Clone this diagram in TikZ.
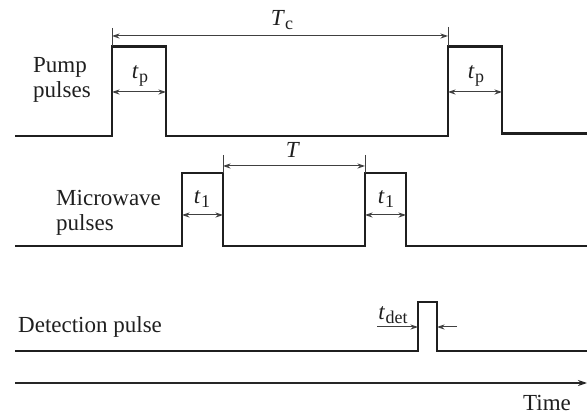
\documentclass[tikz,border=0pt]{standalone}
\usepackage{fontspec}
\setmainfont{Liberation Serif}
\usetikzlibrary{arrows.meta}
\newcommand\mysym[2]{\textit{#1}\kern0.3pt\raisebox{-4.5pt}{\fontsize{18}{18}\selectfont #2}}
\begin{document}
\begin{tikzpicture}[x=1pt,y=-1pt,
  pulse/.style={line width=2.8pt, draw=black!88, line join=miter},
  dim/.style={line width=1pt, draw=black!75, {Stealth[length=7.5pt,width=5pt]}-{Stealth[length=7.5pt,width=5pt]}},
  dimr/.style={line width=1pt, draw=black!75, -{Stealth[length=7.5pt,width=5pt]}},
  tickline/.style={line width=0.8pt, draw=black!75},
  lbl/.style={font=\fontsize{23}{25.5}\selectfont, inner sep=0pt, text=black!88},
  axis/.style={line width=1.3pt, draw=black!85, -{Stealth[length=9pt,width=6pt]}}]
\useasboundingbox (0,0) rectangle (587,414);

% ---------- Pump pulses ----------
\coordinate (p0) at (15,136);
\coordinate (p1) at (112,136);
\coordinate (p2) at (112,46.5);
\coordinate (p3) at (166,46.5);
\coordinate (p4) at (166,136);
\coordinate (p5) at (448,136);
\coordinate (p6) at (448,46.5);
\coordinate (p7) at (502,46.5);
\coordinate (p8) at (502,133.5);
\coordinate (p9) at (587,133.5);
\draw[pulse] (p0) -- (p1) -- (p2) -- (p3) -- (p4) -- (p5) -- (p6) -- (p7) -- (p8) -- (p9);

\node[lbl, align=left, anchor=west] (pumplbl) at (33,80) {Pump\\pulses};

\coordinate (tcA) at (112,28);
\coordinate (tcB) at (448,27);
\draw[tickline] (tcA) -- (p2);
\draw[tickline] (tcB) -- (p6);
\coordinate (tcL) at (112,36);
\coordinate (tcR) at (448,36);
\draw[dim] (tcL) -- (tcR);
\node[lbl] (tc) at (282,20) {\mysym{T}{c}};

\coordinate (tpL1) at (112,92);
\coordinate (tpR1) at (166,92);
\draw[dim] (tpL1) -- (tpR1);
\node[lbl] (tp1) at (140,76) {\mysym{t}{p}};
\coordinate (tpL2) at (448,92);
\coordinate (tpR2) at (502,92);
\draw[dim] (tpL2) -- (tpR2);
\node[lbl] (tp2) at (476,76) {\mysym{t}{p}};

% ---------- Microwave pulses ----------
\coordinate (m0) at (15,246);
\coordinate (m1) at (182,246);
\coordinate (m2) at (182,173);
\coordinate (m3) at (223,173);
\coordinate (m4) at (223,246);
\coordinate (m5) at (365,246);
\coordinate (m6) at (365,173);
\coordinate (m7) at (406,173);
\coordinate (m8) at (406,246);
\coordinate (m9) at (587,246);
\draw[pulse] (m0) -- (m1) -- (m2) -- (m3) -- (m4) -- (m5) -- (m6) -- (m7) -- (m8) -- (m9);

\node[lbl, align=left, anchor=west] (mwlbl) at (56,213) {Microwave\\pulses};

\coordinate (tA) at (223,155);
\coordinate (tB) at (365,155);
\draw[tickline] (tA) -- (m3);
\draw[tickline] (tB) -- (m6);
\coordinate (tL) at (223,166);
\coordinate (tR) at (365,166);
\draw[dim] (tL) -- (tR);
\node[lbl] (T) at (293,150) {\textit{T}};

\coordinate (t1L1) at (182,215);
\coordinate (t1R1) at (223,215);
\draw[dim] (t1L1) -- (t1R1);
\node[lbl] (t11) at (202,199) {\mysym{t}{1}};
\coordinate (t1L2) at (365,215);
\coordinate (t1R2) at (406,215);
\draw[dim] (t1L2) -- (t1R2);
\node[lbl] (t12) at (386,199) {\mysym{t}{1}};

% ---------- Detection pulse ----------
\coordinate (d0) at (15,351);
\coordinate (d1) at (418,351);
\coordinate (d2) at (418,302);
\coordinate (d3) at (437,302);
\coordinate (d4) at (437,351);
\coordinate (d5) at (587,351);
\draw[pulse] (d0) -- (d1) -- (d2) -- (d3) -- (d4) -- (d5);

\node[lbl, anchor=west] (detlbl) at (18,327) {Detection pulse};

\coordinate (dL0) at (377,327);
\coordinate (dL1) at (418,327);
\coordinate (dR0) at (457,327);
\coordinate (dR1) at (437,327);
\draw[dimr] (dL0) -- (dL1);
\draw[dimr] (dR0) -- (dR1);
\node[lbl] (tdet) at (393,315) {\mysym{t}{det}};

% ---------- Time axis ----------
\coordinate (ax0) at (15,383);
\coordinate (ax1) at (587,383);
\draw[axis] (ax0) -- (ax1);
\node[lbl, anchor=base] (time) at (547,410) {Time};
\end{tikzpicture}
\end{document}
